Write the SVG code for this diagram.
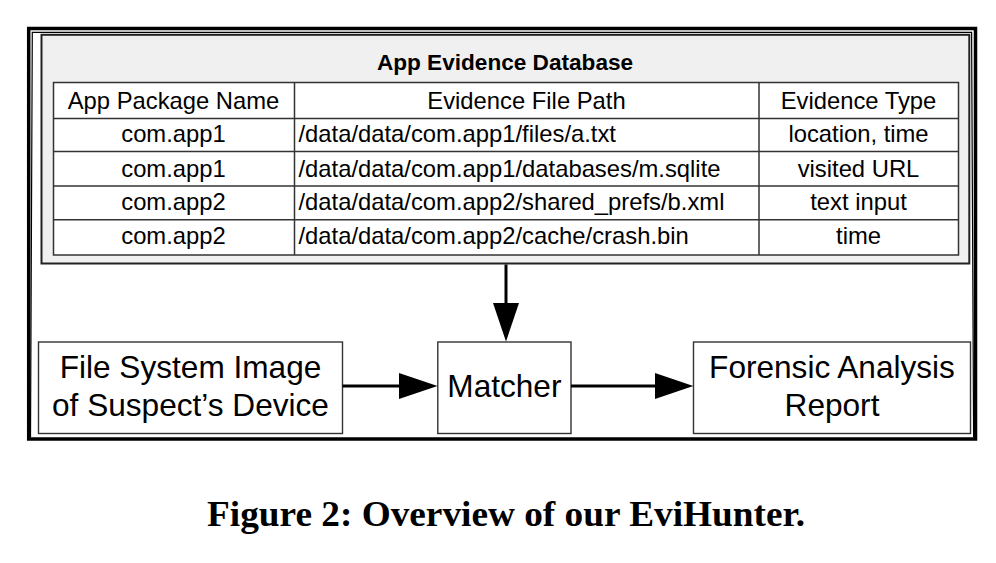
<svg xmlns="http://www.w3.org/2000/svg" width="996" height="563" viewBox="0 0 996 563">
  <style>
    .cell { font-family: "Liberation Sans", Arial, sans-serif; font-size: 23.8px; fill: #000; }
    .mid { text-anchor: middle; }
    .title { font-family: "Liberation Sans", Arial, sans-serif; font-size: 22.6px; font-weight: bold; fill: #000; text-anchor: middle; }
    .big { font-family: "Liberation Sans", Arial, sans-serif; font-size: 31.6px; fill: #000; text-anchor: middle; }
    .grid { stroke: #333; stroke-width: 1.5; fill: none; }
    .box { fill: #fff; stroke: #333; stroke-width: 1.4; }
    .conn { stroke: #000; stroke-width: 3; fill: none; }
    .head { fill: #000; stroke: none; }
    .caption { font-family: "Liberation Serif", "Times New Roman", serif; font-size: 36px; font-weight: bold; fill: #000; text-anchor: start; }
  </style>
  <rect width="996" height="563" fill="#fff"/>

  <!-- outer frame -->
  <g id="frame">
    <rect x="28.7" y="28.5" width="946.8" height="410.5" fill="none" stroke="#000" stroke-width="3.5"/>
    <path d="M30.5,437 L32.3,32.3 L971.6,32.3 L973.6,437" fill="none" stroke="#000" stroke-width="1.2"/>
  </g>

  <!-- evidence database -->
  <g id="database">
    <rect x="41.5" y="34.8" width="927.8" height="228.7" fill="#f0f0f0" stroke="#222" stroke-width="2"/>
    <text class="title" x="505" y="69.5">App Evidence Database</text>
    <rect x="53.5" y="82.5" width="905" height="172.5" fill="#fff"/>
    <g class="grid">
      <rect x="53.5" y="82.5" width="905" height="172.5"/>
      <line x1="294.5" y1="82.5" x2="294.5" y2="255"/>
      <line x1="759" y1="82.5" x2="759" y2="255"/>
      <line x1="53.5" y1="118.5" x2="958.5" y2="118.5"/>
      <line x1="53.5" y1="151.5" x2="958.5" y2="151.5"/>
      <line x1="53.5" y1="186" x2="958.5" y2="186"/>
      <line x1="53.5" y1="219.8" x2="958.5" y2="219.8"/>
    </g>
    <text class="cell mid" x="173.5" y="108.5">App Package Name</text>
    <text class="cell mid" x="526.5" y="108.5">Evidence File Path</text>
    <text class="cell mid" x="858.5" y="108.5">Evidence Type</text>

    <text class="cell mid" x="173.5" y="142">com.app1</text>
    <text class="cell" x="298.5" y="142">/data/data/com.app1/files/a.txt</text>
    <text class="cell mid" x="858.5" y="142">location, time</text>

    <text class="cell mid" x="173.5" y="176.5">com.app1</text>
    <text class="cell" x="298.5" y="176.5">/data/data/com.app1/databases/m.sqlite</text>
    <text class="cell mid" x="858.5" y="176.5">visited URL</text>

    <text class="cell mid" x="173.5" y="210">com.app2</text>
    <text class="cell" x="298.5" y="210">/data/data/com.app2/shared_prefs/b.xml</text>
    <text class="cell mid" x="858.5" y="210">text input</text>

    <text class="cell mid" x="173.5" y="243.5">com.app2</text>
    <text class="cell" x="298.5" y="243.5">/data/data/com.app2/cache/crash.bin</text>
    <text class="cell mid" x="858.5" y="243.5">time</text>
  </g>

  <!-- processing nodes -->
  <g id="image">
    <rect class="box" x="38.5" y="342" width="304" height="91.5"/>
    <text class="big" x="190.5" y="377.5">File System Image</text>
    <text class="big" x="190.5" y="416">of Suspect’s Device</text>
  </g>
  <g id="matcher">
    <rect class="box" x="437.8" y="342" width="133.2" height="91.5"/>
    <text class="big" x="504.4" y="397">Matcher</text>
  </g>
  <g id="report">
    <rect class="box" x="693.5" y="342" width="277" height="91.5"/>
    <text class="big" x="832" y="377.5">Forensic Analysis</text>
    <text class="big" x="832" y="416">Report</text>
  </g>

  <!-- connectors -->
  <g id="connectors">
    <line class="conn" x1="506" y1="264.5" x2="506" y2="305"/>
    <polygon class="head" points="493,303 519,303 506,341.5"/>
    <line class="conn" x1="342.5" y1="386" x2="401" y2="386"/>
    <polygon class="head" points="399,373 399,399 437.5,386"/>
    <line class="conn" x1="571" y1="386" x2="657" y2="386"/>
    <polygon class="head" points="655,373 655,399 693.3,386"/>
  </g>

  <text class="caption" x="207" y="526" textLength="598" lengthAdjust="spacingAndGlyphs">Figure 2: Overview of our EviHunter.</text>
</svg>
